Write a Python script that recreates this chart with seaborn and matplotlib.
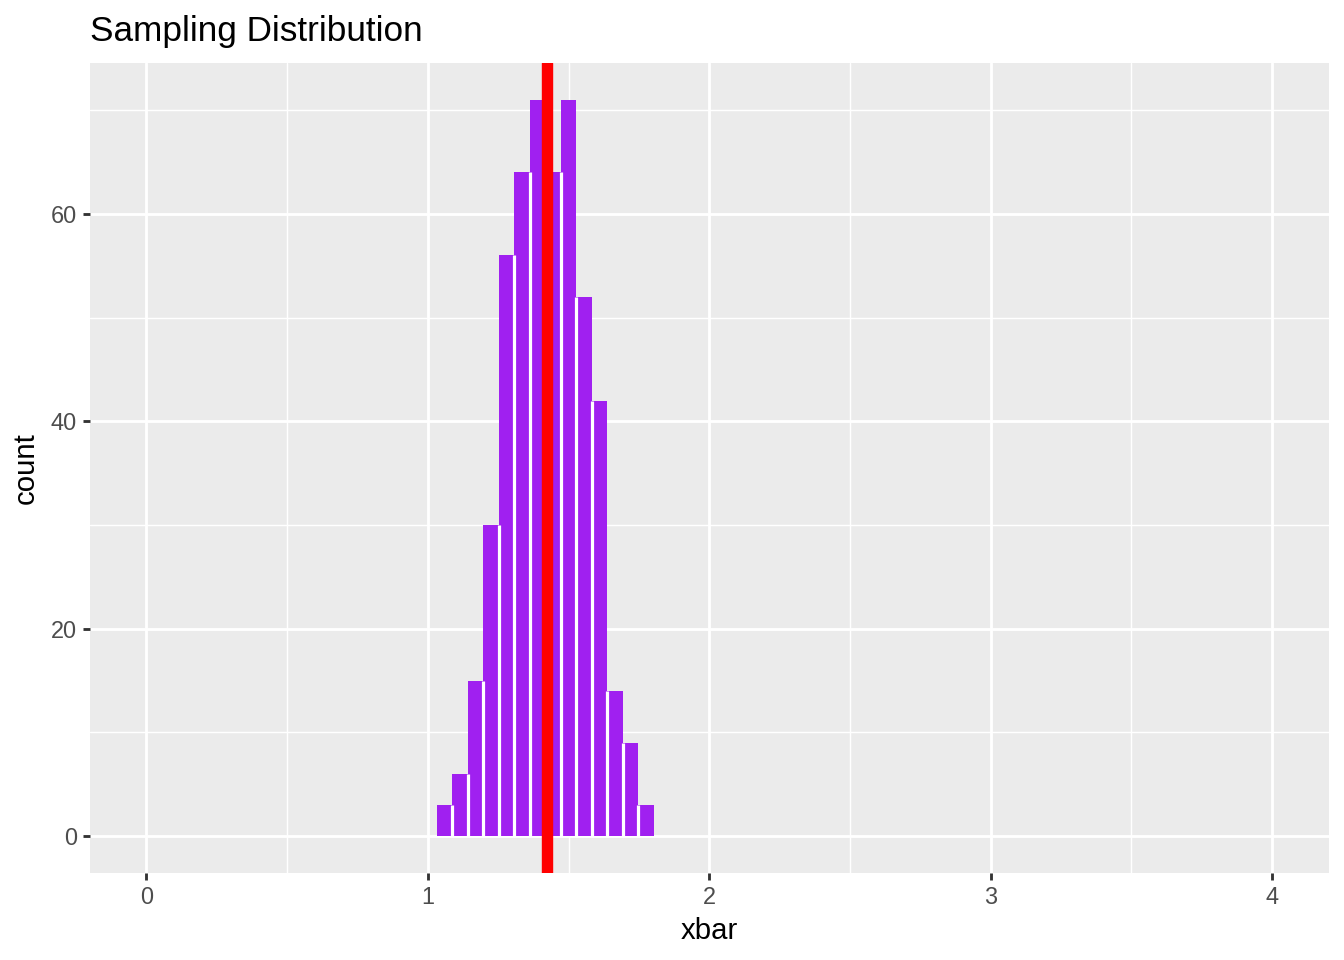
import numpy as np
import pandas as pd
import matplotlib
matplotlib.use("Agg")
import matplotlib.pyplot as plt
import seaborn as sns

# sampling distribution of xbar: bin centres and counts
bin_centers = [1.060, 1.115, 1.170, 1.225, 1.280, 1.335, 1.390,
               1.445, 1.500, 1.556, 1.611, 1.666, 1.721, 1.776]
counts = [3, 6, 15, 30, 56, 64, 71, 64, 71, 52, 42, 14, 9, 3]
xbar_mean = 1.423

x_ticks = [0, 1, 2, 3, 4]
y_ticks = [0, 20, 40, 60]

df = pd.DataFrame({'xbar': bin_centers, 'count': counts})

sns.set_style("darkgrid", {
    'axes.facecolor': '#EBEBEB',
    'grid.color': 'white',
    'axes.edgecolor': '#EBEBEB',
})
plt.rcParams['font.family'] = ['Liberation Sans', 'DejaVu Sans']

fig = plt.figure(figsize=(7, 5), dpi=192)
ax = fig.add_axes([90 / 1344, 87 / 960, (1328.5 - 90) / 1344, (873 - 63) / 960])

w = bin_centers[1] - bin_centers[0]
sns.histplot(data=df, x='xbar', weights='count', bins=len(bin_centers),
             binrange=(bin_centers[0] - w / 2, bin_centers[-1] + w / 2),
             color='#A020F0', edgecolor='none', linewidth=0, alpha=1,
             ax=ax, zorder=2)

# white separators between neighbouring bars (up to the lower of the two)
bars = sorted(ax.patches, key=lambda p: p.get_x())
for left, right in zip(bars[:-1], bars[1:]):
    h = min(left.get_height(), right.get_height())
    ax.vlines(right.get_x(), 0, h, color='white', linewidth=1.2, zorder=2.5)

ax.axvline(xbar_mean, color='#FF0000', linewidth=4.27, zorder=3)

ax.set_xlim(-0.2, 4.2)
ax.set_ylim(-3.55, 74.55)
ax.set_xticks(x_ticks)
ax.set_yticks(y_ticks)
ax.set_xticks([0.5, 1.5, 2.5, 3.5], minor=True)
ax.set_yticks([10, 30, 50, 70], minor=True)
ax.grid(which='major', color='white', linewidth=1.07)
ax.grid(which='minor', color='white', linewidth=0.53)
ax.set_axisbelow(True)
for s in ax.spines.values():
    s.set_visible(False)

ax.tick_params(axis='both', which='major', length=2.75, width=1.07,
               color='#333333', labelcolor='#4D4D4D', labelsize=8.8, pad=2.2,
               bottom=True, left=True)
ax.tick_params(axis='both', which='minor', length=0)

ax.set_xlabel('xbar', fontsize=11, color='black', labelpad=3)
ax.set_ylabel('count', fontsize=11, color='black', labelpad=4)
ax.set_title('Sampling Distribution', loc='left', fontsize=13.2, color='black', pad=8.2)

fig.savefig('out.png', dpi=192)
